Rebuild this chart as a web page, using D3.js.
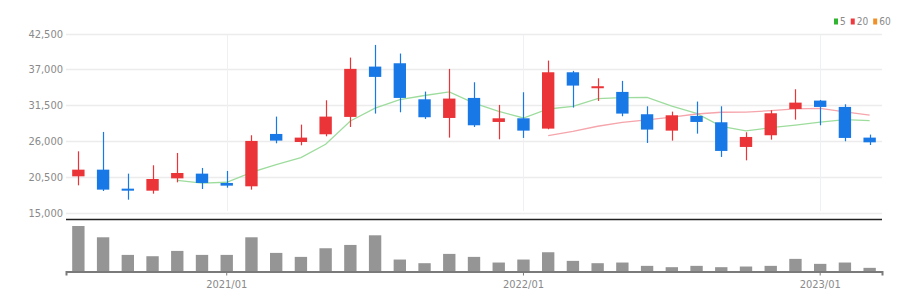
<!DOCTYPE html>
<html>
<head>
<meta charset="utf-8">
<script src="https://cdn.jsdelivr.net/npm/d3@7"></script>
<style>
  body { margin: 0; background: #fff; }
  text { font-family: "Liberation Sans Narrow", "DejaVu Sans Condensed", sans-serif; }
</style>
</head>
<body>
<div id="chart-area"></div>
<script>
// monthly candles, 2020/07 .. 2023/03
var months = ["2020/07","2020/08","2020/09","2020/10","2020/11","2020/12",
              "2021/01","2021/02","2021/03","2021/04","2021/05","2021/06",
              "2021/07","2021/08","2021/09","2021/10","2021/11","2021/12",
              "2022/01","2022/02","2022/03","2022/04","2022/05","2022/06",
              "2022/07","2022/08","2022/09","2022/10","2022/11","2022/12",
              "2023/01","2023/02","2023/03"];
var opens  = [20620,21640,18730,18420,20310,21030,19600,19090,27110,25880,27060,29720,
              37430,37940,32420,29560,32630,28950,29510,27930,36560,34270,33550,30130,
              27620,29870,28900,25120,26910,30940,32220,31250,26550];
var highs  = [24450,27420,21030,22310,24200,21900,21440,26910,29770,28540,32270,38810,
              40750,39430,33600,37080,35030,31560,33500,38350,36770,35640,35240,31350,
              30530,32070,31350,27370,30740,33960,32320,31660,27010];
var lows   = [19240,18370,17040,17960,19700,18680,18880,18580,25680,25370,26750,28180,
              30230,30430,29410,26550,28180,26290,26500,27830,31150,32170,29820,25730,
              26090,27160,23590,23070,26240,29310,28440,25990,25420];
var closes = [21640,18580,18420,20210,21130,19600,19190,26040,26090,26550,29770,37080,
              35850,32630,29670,32530,28440,29510,27620,36560,34520,34420,30230,27780,
              29970,28950,24510,26650,30280,31910,31250,26500,25830];
var volumes = [137,103,50,46,62,50,50,103,56,44,70,80,109,36,25,53,44,
               27,36,58,32,25,27,17,13,17,13,15,17,38,23,27,11];

var priceTicks = [15000, 20500, 26000, 31500, 37000, 42500];
var yearTicks  = ["2021/01", "2022/01", "2023/01"];
var maPeriods  = [5, 20, 60];
var maColors   = ["#2fb52f", "#ee3a3f", "#f0902a"];
var maLineColors = ["#9ddc9d", "#f5a5ab", "#f8c58e"];

var upColor = "#ea3438";
var downColor = "#1878e6";

var svgWidth = 923, svgHeight = 305;
var left = 66, right = 882;

var svg = d3.select("#chart-area")
            .append("svg")
            .attr("width", svgWidth)
            .attr("height", svgHeight);

var candles = months.map((m, i) => ({
    month: m, open: opens[i], high: highs[i], low: lows[i], close: closes[i], volume: volumes[i]
}));

var x = d3.scaleBand()
          .domain(months)
          .range([left, right])
          .paddingInner(0.5)
          .paddingOuter(0.25);
var cx = (m) => x(m) + x.bandwidth() / 2;

var y = d3.scaleLinear()
          .domain([15000, 42500])
          .range([213, 33.5]);

var yVol = d3.scaleLinear()
             .domain([0, d3.max(volumes)])
             .range([271.5, 226]);

// price grid
svg.append("g")
   .selectAll("line")
   .data(priceTicks)
   .enter()
   .append("line")
   .attr("x1", left).attr("x2", right)
   .attr("y1", (d) => Math.round(y(d)) + 0.5)
   .attr("y2", (d) => Math.round(y(d)) + 0.5)
   .attr("stroke", "#ececec")
   .attr("stroke-width", 1.5);

svg.append("g")
   .selectAll("line")
   .data(yearTicks)
   .enter()
   .append("line")
   .attr("x1", (d) => Math.round(cx(d)) + 0.5)
   .attr("x2", (d) => Math.round(cx(d)) + 0.5)
   .attr("y1", 35).attr("y2", 211)
   .attr("stroke", "#eef0f3");

// y axis labels
var yAxisCall = d3.axisLeft(y)
                  .tickValues(priceTicks)
                  .tickSize(0)
                  .tickPadding(3)
                  .tickFormat(d3.format(","));
var yAxis = svg.append("g")
               .attr("transform", "translate(" + left + ",0)")
               .call(yAxisCall);
yAxis.select(".domain").remove();
yAxis.selectAll("text")
     .attr("fill", "#8a8a8a")
     .attr("font-size", "11px")
     .style("font-family", "'Liberation Sans Narrow', 'DejaVu Sans Condensed', sans-serif");

// moving averages
maPeriods.forEach((p, k) => {
    var pts = [];
    for (var i = p - 1; i < closes.length; i++) {
        pts.push({ month: months[i], value: d3.mean(closes.slice(i - p + 1, i + 1)) });
    }
    if (pts.length < 2) return;
    svg.append("path")
       .datum(pts)
       .attr("fill", "none")
       .attr("stroke", maLineColors[k])
       .attr("stroke-width", 1.3)
       .attr("d", d3.line()
                    .x((d) => cx(d.month))
                    .y((d) => y(d.value)));
});

// candles
var candleG = svg.append("g")
                 .selectAll("g")
                 .data(candles)
                 .enter()
                 .append("g");

candleG.append("line")
       .attr("x1", (d) => Math.round(cx(d.month)) + 0.5)
       .attr("x2", (d) => Math.round(cx(d.month)) + 0.5)
       .attr("y1", (d) => y(d.high))
       .attr("y2", (d) => y(d.low))
       .attr("stroke", (d) => d.close >= d.open ? upColor : downColor)
       .attr("stroke-width", 1.2);

candleG.append("rect")
       .attr("x", (d) => x(d.month))
       .attr("width", x.bandwidth())
       .attr("y", (d) => y(Math.max(d.open, d.close)))
       .attr("height", (d) => Math.max(2, Math.abs(y(d.open) - y(d.close))))
       .attr("fill", (d) => d.close >= d.open ? upColor : downColor);

// legend
var legend = svg.append("g")
                .attr("transform", "translate(834, 22)");
var lx = 0;
maPeriods.forEach((p, k) => {
    legend.append("rect")
          .attr("x", lx).attr("y", -3.5)
          .attr("width", 4).attr("height", 6)
          .attr("fill", maColors[k]);
    var t = legend.append("text")
                  .attr("x", lx + 6)
                  .attr("y", 3)
                  .attr("font-size", "10px")
                  .attr("fill", "#8a8a8a")
                  .text(p);
    lx += 6 + t.node().getComputedTextLength() + 5;
});

// separator between panels
svg.append("line")
   .attr("x1", left).attr("x2", right)
   .attr("y1", 219.5).attr("y2", 219.5)
   .attr("stroke", "#222")
   .attr("stroke-width", 1.6);

// volume bars
svg.append("g")
   .selectAll("rect")
   .data(candles)
   .enter()
   .append("rect")
   .attr("x", (d) => x(d.month))
   .attr("width", x.bandwidth())
   .attr("y", (d) => yVol(d.volume))
   .attr("height", (d) => yVol(0) - yVol(d.volume))
   .attr("fill", "#959595");

// x axis
var xAxisCall = d3.axisBottom(x)
                  .tickValues(yearTicks)
                  .tickSize(4)
                  .tickPadding(5);
var xAxis = svg.append("g")
               .attr("transform", "translate(0," + yVol(0) + ")")
               .call(xAxisCall);
xAxis.select(".domain")
     .attr("stroke", "#7a7a7a")
     .attr("stroke-width", 2);
xAxis.selectAll(".tick line").attr("stroke", "#7a7a7a");
xAxis.selectAll("text")
     .attr("fill", "#8a8a8a")
     .attr("font-size", "11px")
     .style("font-family", "'Liberation Sans Narrow', 'DejaVu Sans Condensed', sans-serif");
</script>
</body>
</html>
